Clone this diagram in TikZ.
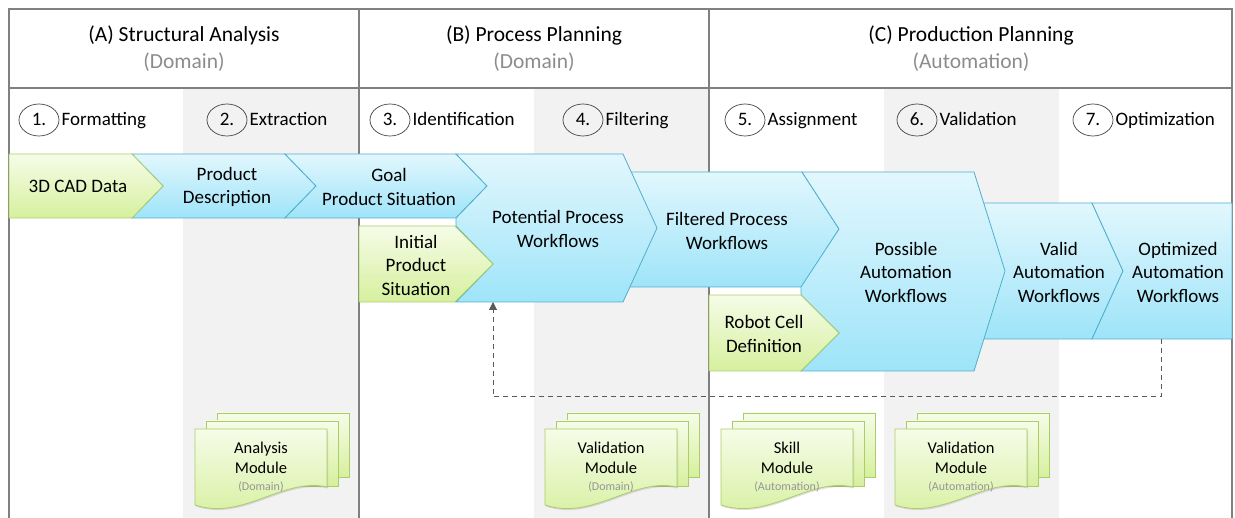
\documentclass[tikz,border=0pt]{standalone}
\usepackage{fontspec}
\setmainfont{Carlito}
\usetikzlibrary{arrows.meta,shapes.geometric,shadows}
\definecolor{framec}{RGB}{128,128,128}
\definecolor{colshade}{RGB}{242,242,242}
\definecolor{subgray}{RGB}{140,140,140}
\definecolor{modgray}{RGB}{150,150,150}
\definecolor{bluebd}{RGB}{80,175,205}
\definecolor{bluetop}{RGB}{226,247,253}
\definecolor{bluebot}{RGB}{158,228,249}
\definecolor{greenbd}{RGB}{172,204,104}
\definecolor{greentop}{RGB}{246,252,232}
\definecolor{greenbot}{RGB}{214,240,158}
\definecolor{dashc}{RGB}{90,90,90}
\newcommand{\mkmodule}[4]{%
  \begin{scope}[shift={(#1,429)}]
    \path[moddoc] (22,-16) rectangle (154,48);
    \path[moddoc] (11,-8) rectangle (143,57);
    \path[moddoc] (0,0) -- (132,0) -- (132,58) .. controls (88,48) and (48,92) .. (0,76) -- cycle;
    \node[modtxt] (#2) at (66,29) {#3};
    \node[modsub] (#2s) at (66,58) {#4};
  \end{scope}}
\begin{document}
\begin{tikzpicture}[x=1pt,y=-1pt,
  frameline/.style={draw=framec,line width=1.3pt},
  hdr/.style={align=center,inner sep=0pt,font=\fontsize{21.5}{27}\selectfont},
  stepc/.style={draw=black!75,line width=0.7pt,ellipse,minimum width=40pt,minimum height=32pt,inner sep=0pt,text height=12pt,text depth=0pt,font=\fontsize{19}{23}\selectfont},
  steplbl/.style={inner sep=0pt,anchor=west,text height=12pt,text depth=0pt,font=\fontsize{19}{23}\selectfont},
  blueshape/.style={draw=bluebd,line width=0.8pt,top color=bluetop,bottom color=bluebot},
  greenshape/.style={draw=greenbd,line width=0.8pt,top color=greentop,bottom color=greenbot},
  atxt/.style={align=center,inner sep=0pt,font=\fontsize{19}{23.5}\selectfont},
  moddoc/.style={draw=greenbd,line width=0.8pt,top color=greentop,bottom color=greenbot,drop shadow={opacity=0.25,shadow xshift=1pt,shadow yshift=-1.5pt}},
  modtxt/.style={align=center,inner sep=0pt,font=\fontsize{16.5}{20}\selectfont},
  modsub/.style={inner sep=0pt,text=modgray,font=\fontsize{12}{14}\selectfont},
  fbarrow/.style={draw=dashc,line width=1pt,dash pattern=on 5pt off 4pt,-{Triangle[length=8pt,width=8pt]}}
]
\useasboundingbox (0,0) rectangle (1235,518);
% shaded sub-columns
\fill[colshade] (183,88) rectangle (359,518);
\fill[colshade] (534,88) rectangle (709,518);
\fill[colshade] (884,88) rectangle (1059,518);
% frame
\draw[frameline] (9,518) -- (9,9) -- (1232,9) -- (1232,518);
\draw[frameline] (9,88) -- (1232,88);
\draw[frameline] (359,9) -- (359,518);
\draw[frameline] (709,9) -- (709,518);
% headers
\node[hdr] (hA) at (184,48.5) {(A) Structural Analysis\\\textcolor{subgray}{(Domain)}};
\node[hdr] (hB) at (534,48.5) {(B) Process Planning\\\textcolor{subgray}{(Domain)}};
\node[hdr] (hC) at (971,48.5) {(C) Production Planning\\\textcolor{subgray}{(Automation)}};
% steps
\node[stepc] (c1) at (39,120) {1.};
\node[steplbl] (l1) at ([xshift=2pt]c1.east) {Formatting};
\node[stepc] (c2) at (227,120) {2.};
\node[steplbl] (l2) at ([xshift=2pt]c2.east) {Extraction};
\node[stepc] (c3) at (390,120) {3.};
\node[steplbl] (l3) at ([xshift=2pt]c3.east) {Identification};
\node[stepc] (c4) at (583,120) {4.};
\node[steplbl] (l4) at ([xshift=2pt]c4.east) {Filtering};
\node[stepc] (c5) at (745,120) {5.};
\node[steplbl] (l5) at ([xshift=2pt]c5.east) {Assignment};
\node[stepc] (c6) at (917,120) {6.};
\node[steplbl] (l6) at ([xshift=2pt]c6.east) {Validation};
\node[stepc] (c7) at (1093,120) {7.};
\node[steplbl] (l7) at ([xshift=2pt]c7.east) {Optimization};
% chevrons (back to front)
\path[blueshape] (623,172) -- (802,172) -- (839,229) -- (802,287) -- (623,287) -- cycle;
\path[blueshape] (975,203) -- (1092,203) -- (1123,271) -- (1092,339) -- (975,339) -- cycle;
\path[blueshape] (132,154) -- (285,154) -- (316,186) -- (285,218) -- (132,218) -- (163,186) -- cycle;
\path[blueshape] (285,154) -- (456,154) -- (487,186) -- (456,218) -- (285,218) -- (316,186) -- cycle;
\path[blueshape] (456,154) -- (623,154) -- (657,228) -- (623,302) -- (456,302) -- (493,264) -- (456,226) -- (456,218) -- (487,186) -- cycle;
\path[blueshape] (802,172) -- (974,172) -- (1005,271) -- (974,371) -- (801,371) -- (839,333) -- (801,295) -- (801,287) -- (839,229) -- cycle;
\path[blueshape] (1092,203) -- (1232,203) -- (1232,339) -- (1092,339) -- (1123,271) -- cycle;
\path[greenshape] (9,154) -- (132,154) -- (163,186) -- (132,218) -- (9,218) -- cycle;
\path[greenshape] (359,226) -- (455,226) -- (493,264) -- (455,302) -- (359,302) -- cycle;
\path[greenshape] (709,295) -- (801,295) -- (839,333) -- (801,371) -- (709,371) -- cycle;
% chevron texts
\node[atxt] (cad) at (78,186) {3D CAD Data};
\node[atxt] (pd) at (227,187) {Product\\Description};
\node[atxt] (goal) at (389,187) {Goal\\Product Situation};
\node[atxt] (pot) at (558,229) {Potential Process\\Workflows};
\node[atxt] (init) at (416,265) {Initial\\Product\\Situation};
\node[atxt] (filt) at (727,231) {Filtered Process\\Workflows};
\node[atxt] (poss) at (906,272) {Possible\\Automation\\Workflows};
\node[atxt] (robot) at (764,334) {Robot Cell\\Definition};
\node[atxt] (valid) at (1059,272) {Valid\\Automation\\Workflows};
\node[atxt] (opt) at (1178,272) {Optimized\\Automation\\Workflows};
% feedback loop
\coordinate (fbstart) at (1161,339);
\coordinate (fbend) at (493,302);
\draw[fbarrow] (fbstart) -- ++(0,58) -| (fbend);
% modules
\mkmodule{195}{mA}{Analysis\\Module}{(Domain)}
\mkmodule{545}{mB}{Validation\\Module}{(Domain)}
\mkmodule{721}{mC}{Skill\\Module}{(Automation)}
\mkmodule{895}{mD}{Validation\\Module}{(Automation)}
\end{tikzpicture}
\end{document}
